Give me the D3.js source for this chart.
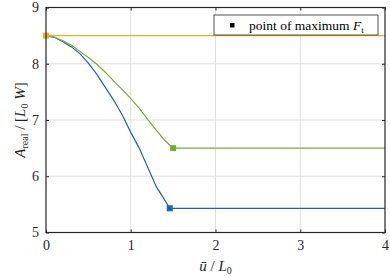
<!DOCTYPE html>
<html>
<head>
<meta charset="utf-8">
<script src="https://cdn.jsdelivr.net/npm/d3@7"></script>
<style>
  body { margin: 0; background: #fff; }
</style>
</head>
<body>
<div id="chart"></div>
<script>
/* DATA */
const uBlue = [0, 0.1, 0.2, 0.3, 0.4, 0.5, 0.6, 0.7, 0.8, 0.9, 1.0, 1.1, 1.2, 1.3, 1.4, 1.46, 4];
const aBlue = [8.5, 8.47, 8.39, 8.30, 8.18, 8.01, 7.81, 7.58, 7.35, 7.09, 6.78, 6.50, 6.16, 5.82, 5.58, 5.43, 5.43];
const uGreen = [0, 0.1, 0.2, 0.3, 0.4, 0.5, 0.6, 0.7, 0.8, 0.9, 1.0, 1.1, 1.2, 1.3, 1.4, 1.5, 4];
const aGreen = [8.5, 8.47, 8.41, 8.33, 8.22, 8.11, 7.99, 7.85, 7.69, 7.54, 7.38, 7.21, 7.01, 6.82, 6.64, 6.5, 6.5];
const uOrange = [0, 4];
const aOrange = [8.5, 8.5];
// point of maximum F_t for each series
const peakU = [1.46, 1.5, 0];
const peakA = [5.43, 6.5, 8.5];
const colors = ["#1f5fbd", "#77ac30", "#edb120"];
const xTicks = [0, 1, 2, 3, 4];
const yTicks = [5, 6, 7, 8, 9];

/* CONSTANTS */
const W = 390, H = 276;
const FONT = "'Liberation Serif', 'Times New Roman', 'DejaVu Serif', serif";
const margin = { top: 7.5, right: 5, bottom: 43.5, left: 46 };
const width = W - margin.left - margin.right;
const height = H - margin.top - margin.bottom;

const svg = d3.select("#chart").append("svg")
  .attr("width", W).attr("height", H)
  .style("font-family", FONT);

const g = svg.append("g")
  .attr("transform", `translate(${margin.left},${margin.top})`);

/* SCALES */
const x = d3.scaleLinear().domain([0, 4]).range([0, width]);
const y = d3.scaleLinear().domain([5, 9]).range([height, 0]);

/* GRID */
g.append("g").selectAll("line")
  .data(xTicks.slice(1, -1))
  .join("line")
  .attr("x1", d => x(d)).attr("x2", d => x(d))
  .attr("y1", 0).attr("y2", height)
  .attr("stroke", "#dfdfdf").attr("stroke-width", 1);

g.append("g").selectAll("line")
  .data(yTicks.slice(1, -1))
  .join("line")
  .attr("x1", 0).attr("x2", width)
  .attr("y1", d => y(d)).attr("y2", d => y(d))
  .attr("stroke", "#dfdfdf").attr("stroke-width", 1);

/* LINES */
const series = [
  { u: uBlue, a: aBlue },
  { u: uGreen, a: aGreen },
  { u: uOrange, a: aOrange }
];
const line = d3.line().x(d => x(d[0])).y(d => y(d[1]));

series.forEach((s, i) => {
  g.append("path")
    .datum(d3.zip(s.u, s.a))
    .attr("fill", "none")
    .attr("stroke", colors[i])
    .attr("stroke-width", 1.2)
    .attr("d", line);
});

g.selectAll("rect.peak")
  .data(d3.range(peakU.length))
  .join("rect")
  .attr("class", "peak")
  .attr("x", i => x(peakU[i]) - 3)
  .attr("y", i => y(peakA[i]) - 3)
  .attr("width", 6).attr("height", 6)
  .attr("fill", i => colors[i]);

/* AXES */
const axisStyle = sel => {
  sel.attr("font-family", null);
  sel.select(".domain").remove();
  sel.selectAll("line").attr("stroke", "#262626");
  sel.selectAll("text").attr("fill", "#262626")
    .style("font-family", FONT).style("font-size", "14px");
};

g.append("g").attr("transform", `translate(0,${height})`)
  .call(d3.axisBottom(x).tickValues(xTicks).tickFormat(d3.format("d")).tickSizeInner(-3).tickPadding(8))
  .call(axisStyle);
g.append("g")
  .call(d3.axisTop(x).tickValues(xTicks).tickFormat("").tickSizeInner(-3))
  .call(axisStyle);
g.append("g")
  .call(d3.axisLeft(y).tickValues(yTicks).tickFormat(d3.format("d")).tickSizeInner(-3).tickPadding(7))
  .call(axisStyle);
g.append("g").attr("transform", `translate(${width},0)`)
  .call(d3.axisRight(y).tickValues(yTicks).tickFormat("").tickSizeInner(-3))
  .call(axisStyle);

g.append("rect")
  .attr("width", width).attr("height", height)
  .attr("fill", "none").attr("stroke", "#262626").attr("stroke-width", 1.2);

/* LEGEND */
const leg = g.append("g").attr("transform", `translate(${214 - margin.left},${15 - margin.top})`);
leg.append("rect")
  .attr("width", 164).attr("height", 20)
  .attr("fill", "#fff").attr("stroke", "#262626").attr("stroke-width", 0.8);
leg.append("rect")
  .attr("x", 16).attr("y", 8).attr("width", 4.5).attr("height", 4.5).attr("fill", "#000");
const lt = leg.append("text").attr("x", 35).attr("y", 14.5)
  .style("font-family", FONT).style("font-size", "13.5px").attr("fill", "#000");
lt.append("tspan").text("point of maximum ");
lt.append("tspan").attr("font-style", "italic").text("F");
lt.append("tspan").attr("font-size", "9px").attr("dy", 3).text("t");

/* AXIS LABELS */
const xl = svg.append("text")
  .attr("x", margin.left + width / 2).attr("y", 271)
  .attr("text-anchor", "middle").style("font-family", FONT).style("font-size", "15px").attr("fill", "#262626");
xl.append("tspan").attr("font-style", "italic").text("ū");
xl.append("tspan").text(" / ");
xl.append("tspan").attr("font-style", "italic").text("L");
xl.append("tspan").attr("font-size", "10px").attr("dy", 3).text("0");

const yl = svg.append("text")
  .attr("transform", `translate(25,${margin.top + height / 2}) rotate(-90)`)
  .attr("text-anchor", "middle").style("font-family", FONT).style("font-size", "15px").attr("fill", "#262626");
yl.append("tspan").attr("font-style", "italic").text("A");
yl.append("tspan").attr("font-size", "10px").attr("dy", 3).text("real");
yl.append("tspan").attr("dy", -3).text(" / [");
yl.append("tspan").attr("font-style", "italic").text("L");
yl.append("tspan").attr("font-size", "10px").attr("dy", 3).text("0");
yl.append("tspan").attr("dy", -3).text(" ");
yl.append("tspan").attr("font-style", "italic").text("W");
yl.append("tspan").text("]");
</script>
</body>
</html>
